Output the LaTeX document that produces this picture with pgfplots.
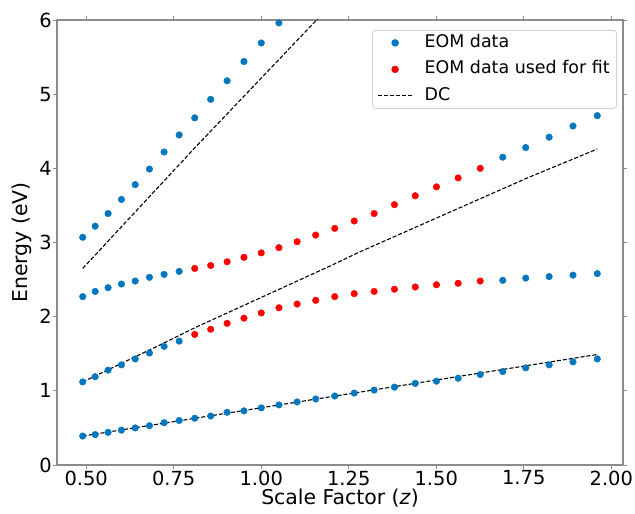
\documentclass[border=0pt]{standalone}
\usepackage{fontspec}
\setmainfont{DejaVu Sans}
\usepackage{pgfplots}
\usepackage{pgfplotstable}
\pgfplotsset{compat=1.18}

\definecolor{eomblue}{RGB}{0,119,190}
\definecolor{eomred}{RGB}{255,0,0}
\definecolor{spine}{RGB}{140,140,140}
\definecolor{legframe}{RGB}{210,210,210}

% EOM excitation energies (eV) against scale factor z
\pgfplotstableread{
z       E
0.4900  3.07
0.5256  3.22
0.5625  3.39
0.6006  3.58
0.6400  3.78
0.6806  3.99
0.7225  4.22
0.7656  4.45
0.8100  4.68
0.8556  4.93
0.9025  5.18
0.9506  5.44
1.0000  5.69
1.0506  5.96
0.4900  2.27
0.5256  2.34
0.5625  2.39
0.6006  2.44
0.6400  2.48
0.6806  2.53
0.7225  2.57
0.7656  2.61
1.6900  4.15
1.7556  4.28
1.8225  4.42
1.8906  4.57
1.9600  4.71
0.4900  1.12
0.5256  1.19
0.5625  1.28
0.6006  1.35
0.6400  1.43
0.6806  1.51
0.7225  1.60
0.7656  1.67
1.6900  2.49
1.7556  2.52
1.8225  2.54
1.8906  2.56
1.9600  2.58
0.4900  0.39
0.5256  0.41
0.5625  0.44
0.6006  0.47
0.6400  0.50
0.6806  0.53
0.7225  0.57
0.7656  0.60
0.8100  0.63
0.8556  0.66
0.9025  0.71
0.9506  0.73
1.0000  0.77
1.0506  0.81
1.1025  0.85
1.1556  0.89
1.2100  0.93
1.2656  0.97
1.3225  1.01
1.3806  1.05
1.4400  1.10
1.5006  1.13
1.5625  1.17
1.6256  1.22
1.6900  1.26
1.7556  1.31
1.8225  1.35
1.8906  1.39
1.9600  1.43
}\eomall

% EOM points used in the fit
\pgfplotstableread{
z       E
0.8100  2.65
0.8556  2.69
0.9025  2.74
0.9506  2.80
1.0000  2.86
1.0506  2.93
1.1025  3.01
1.1556  3.10
1.2100  3.19
1.2656  3.29
1.3225  3.39
1.3806  3.51
1.4400  3.63
1.5006  3.75
1.5625  3.87
1.6256  4.00
0.8100  1.76
0.8556  1.83
0.9025  1.91
0.9506  1.98
1.0000  2.05
1.0506  2.12
1.1025  2.17
1.1556  2.22
1.2100  2.27
1.2656  2.31
1.3225  2.34
1.3806  2.37
1.4400  2.40
1.5006  2.43
1.5625  2.45
1.6256  2.48
}\eomfit

\pgfplotsset{
  dc style/.style={black, line width=1.1bp, dash pattern=on 4bp off 2bp},
  % legend glyph: a single dot in the middle of the image slot
  dot legend/.style={
    legend image code/.code={%
      \fill[#1] (17bp,0bp) circle[radius=3.3bp];
    }},
  line legend wide/.style={
    legend image code/.code={%
      \draw[##1] (0bp,0bp) -- (34bp,0bp);
    }},
}

\begin{document}
\begin{tikzpicture}
\begin{axis}[
  scale only axis,
  width=566bp, height=445bp,
  xmin=0.4165, xmax=2.0335,
  ymin=0, ymax=6,
  xtick={0.5,0.75,1,1.25,1.5,1.75,2},
  xticklabels={0.50,0.75,1.00,1.25,1.50,1.75,2.00},
  ytick={0,1,2,3,4,5,6},
  /pgf/number format/assume math mode=true,
  tick align=outside,
  major tick length=4bp,
  tick style={draw=spine, line width=0.9bp},
  axis line style={draw=spine, line width=1.3bp},
  ticklabel style={font=\fontsize{19.5}{23}\selectfont},
  xticklabel style={inner sep=1.5bp},
  yticklabel style={inner sep=1bp},
  xlabel={Scale Factor (\textit{z})},
  ylabel={Energy (eV)},
  label style={font=\fontsize{20.5}{24}\selectfont},
  xlabel style={at={(axis description cs:0.5,-0.0899)}, anchor=base},
  ylabel style={at={(axis description cs:-0.0627,0.5)}, anchor=center},
  legend cell align=left,
  legend style={
    at={(axis description cs:1,1)}, anchor=north east,
    xshift=-6bp, yshift=-10bp,
    draw=legframe, line width=0.8bp, rounded corners=3bp, fill=white,
    font=\fontsize{17.5}{21}\selectfont,
    inner xsep=5bp, inner ysep=2bp, row sep=5.5bp,
    nodes={inner sep=2bp, text height=13bp, text depth=4bp},
    /tikz/every odd column/.append style={column sep=10bp},
  },
]
\addplot[only marks, mark=*, mark size=3.3bp, color=eomblue, dot legend=eomblue]
  table[x=z, y=E] {\eomall};
\addlegendentry{EOM data}
\addplot[only marks, mark=*, mark size=3.3bp, color=eomred, dot legend=eomred]
  table[x=z, y=E] {\eomfit};
\addlegendentry{EOM data used for fit}

% DC curves
\addplot[dc style, line legend wide]
  coordinates {(0.49,0.39) (1.96,1.49)};
\addlegendentry{DC}
\addplot[dc style, forget plot]
  coordinates {(0.49,1.12) (0.72,1.64) (0.81,1.85) (1.20,2.69) (1.28,2.87) (1.76,3.87) (1.96,4.26)};
\addplot[dc style, forget plot]
  coordinates {(0.49,2.65) (0.805,4.25) (1.14,5.91) (1.20,6.21)};

\coordinate (bbsw) at (axis description cs:-0.1007,-0.1101);
\coordinate (bbne) at (axis description cs:1.0212,1.0449);
\end{axis}
\pgfresetboundingbox
\path[use as bounding box] (bbsw) rectangle (bbne);
\end{tikzpicture}
\end{document}
